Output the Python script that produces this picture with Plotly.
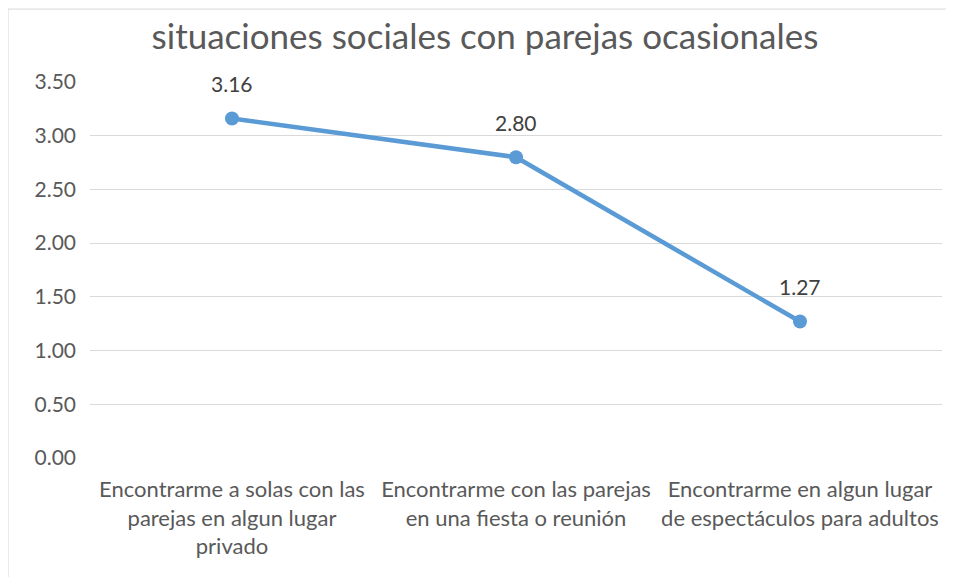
import plotly.graph_objects as go

# datos
categorias = [
    "Encontrarme a solas con las<br>parejas en algun lugar<br>privado",
    "Encontrarme con las parejas<br>en una fiesta o reunión",
    "Encontrarme en algun lugar<br>de espectáculos para adultos",
]
valores = [3.16, 2.80, 1.27]
etiquetas = ["3.16", "2.80", "1.27"]
y_ticks = [0, 0.5, 1.0, 1.5, 2.0, 2.5, 3.0, 3.5]

AZUL = "#5B9BD5"
GRIS = "#595959"
FUENTE = "Lato, Open Sans, sans-serif"

fig = go.Figure()

fig.add_trace(go.Scatter(
    x=categorias, y=valores,
    mode="lines+markers",
    line=dict(color=AZUL, width=4.5),
    marker=dict(color=AZUL, size=14),
    hoverinfo="skip",
))

# etiquetas de datos
for c, v, t in zip(categorias, valores, etiquetas):
    fig.add_annotation(
        x=c, y=v, text=t, showarrow=False,
        yshift=35, font=dict(size=21, color="#404040", family=FUENTE),
    )

# borde del gráfico
fig.add_shape(
    type="rect", xref="paper", yref="paper",
    x0=-0.0962, x1=1.05, y0=-0.4, y1=1.194,
    line=dict(color="#D9D9D9", width=1),
)

fig.update_layout(
    width=954, height=577,
    margin=dict(l=82, r=20, t=74, b=127),
    paper_bgcolor="white",
    plot_bgcolor="white",
    showlegend=False,
    font=dict(family=FUENTE, color=GRIS, size=21),
    title=dict(
        text="situaciones sociales con parejas ocasionales",
        x=0.5, xanchor="center", y=0.951, yanchor="middle",
        font=dict(size=35, color=GRIS, family=FUENTE),
    ),
)

fig.update_xaxes(
    range=[-0.5, 2.5], automargin=False,
    showgrid=False, showline=False, zeroline=False,
    tickfont=dict(size=22, color=GRIS),
    ticklabelstandoff=16,
)
fig.update_yaxes(
    range=[0, 3.5], tickvals=y_ticks, tickformat=".2f", automargin=False,
    showgrid=True, gridcolor="#D9D9D9", gridwidth=1,
    zeroline=False, showline=False,
    tickfont=dict(size=21, color=GRIS),
    ticklabelstandoff=13,
)

fig.write_html("out.html")
